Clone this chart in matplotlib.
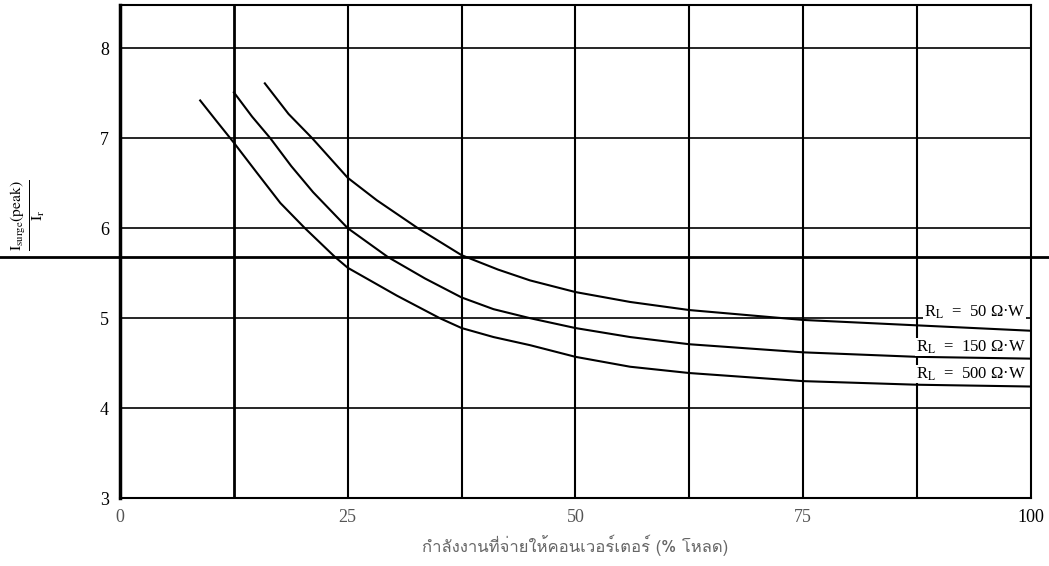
import matplotlib
matplotlib.use("Agg")
import matplotlib.pyplot as plt
from matplotlib import font_manager
from matplotlib.ft2font import FT2Font

# data
x_50 = [15.9, 18.5, 21.1, 25.0, 28.2, 32.7, 37.5, 41.5, 45.0, 50.0, 56.0, 62.5, 75.0, 87.5, 100.0]
y_50 = [7.61, 7.27, 7.00, 6.56, 6.31, 6.00, 5.70, 5.54, 5.42, 5.29, 5.18, 5.09, 4.98, 4.92, 4.86]

x_150 = [12.5, 14.5, 16.5, 18.8, 21.2, 25.0, 29.4, 33.5, 37.5, 41.0, 45.0, 50.0, 56.0, 62.5, 75.0, 87.5, 100.0]
y_150 = [7.51, 7.24, 7.00, 6.69, 6.40, 6.00, 5.68, 5.44, 5.23, 5.10, 5.00, 4.89, 4.79, 4.71, 4.62, 4.57, 4.55]

x_500 = [8.8, 10.6, 12.5, 15.0, 17.6, 20.3, 23.6, 25.0, 30.4, 35.1, 37.5, 41.0, 45.0, 50.0, 56.0, 62.5, 75.0, 87.5, 100.0]
y_500 = [7.42, 7.19, 6.95, 6.62, 6.28, 6.00, 5.68, 5.56, 5.25, 5.00, 4.89, 4.79, 4.70, 4.57, 4.46, 4.39, 4.30, 4.26, 4.24]

curve_labels = [r"R$_\mathrm{L}$  =  50 Ω·W", r"R$_\mathrm{L}$  =  150 Ω·W", r"R$_\mathrm{L}$  =  500 Ω·W"]
label_y = [5.06, 4.68, 4.38]

x_ticks = [0, 25, 50, 75, 100]
y_ticks = [3, 4, 5, 6, 7, 8]
ref_y = 5.68

xlabel = "กำลังงานที่จ่ายให้คอนเวอร์เตอร์ (% โหลด)"


def thai_font():
    for f in font_manager.fontManager.ttflist:
        try:
            if 0x0E01 in FT2Font(f.fname).get_charmap():
                return f.name
        except Exception:
            pass
    return "DejaVu Sans"


plt.rcParams["font.family"] = ["Liberation Serif", "DejaVu Serif"]
plt.rcParams["mathtext.fontset"] = "stix"

fig = plt.figure(figsize=(10.49, 5.66), dpi=100)
ax = fig.add_axes([0.1144, 0.12, 0.8684, 0.871])
ax.set_xlim(0, 100)
ax.set_ylim(3, 8.48)

# grid
for gx in [12.5 * i for i in range(1, 8)]:
    ax.axvline(gx, color="black", lw=2.0 if gx == 12.5 else 1.5, zorder=1)
for gy in y_ticks[1:]:
    ax.axhline(gy, color="black", lw=1.2, zorder=1)
ax.axhline(ref_y, xmin=-0.14, xmax=1.02, color="black", lw=2.0, clip_on=False, zorder=2)

for xs, ys in [(x_50, y_50), (x_150, y_150), (x_500, y_500)]:
    ax.plot(xs, ys, color="black", lw=1.5, zorder=3, solid_joinstyle="round")

for txt, ly in zip(curve_labels, label_y):
    ax.text(99.4, ly, txt, ha="right", va="center", fontsize=12,
            bbox=dict(facecolor="white", edgecolor="none", pad=0.5), zorder=4)

for side in ["left", "right", "top", "bottom"]:
    ax.spines[side].set_linewidth(1.5)
ax.spines["left"].set_linewidth(2.5)

ax.set_xticks(x_ticks)
ax.set_yticks(y_ticks)
ax.tick_params(length=0, labelsize=13, pad=8)
for lab in ax.get_xticklabels():
    lab.set_color("#555555")
ax.get_xticklabels()[-1].set_color("black")

ax.set_xlabel(xlabel, family=[thai_font(), "DejaVu Sans"], fontsize=12, color="#666666", labelpad=6)

fig.text(0.027, 0.62, r"$\frac{\mathrm{I_{surge}(peak)}}{\mathrm{I_r}}$", rotation=90, fontsize=16,
         ha="center", va="center")

fig.savefig("out.png", dpi=100)
